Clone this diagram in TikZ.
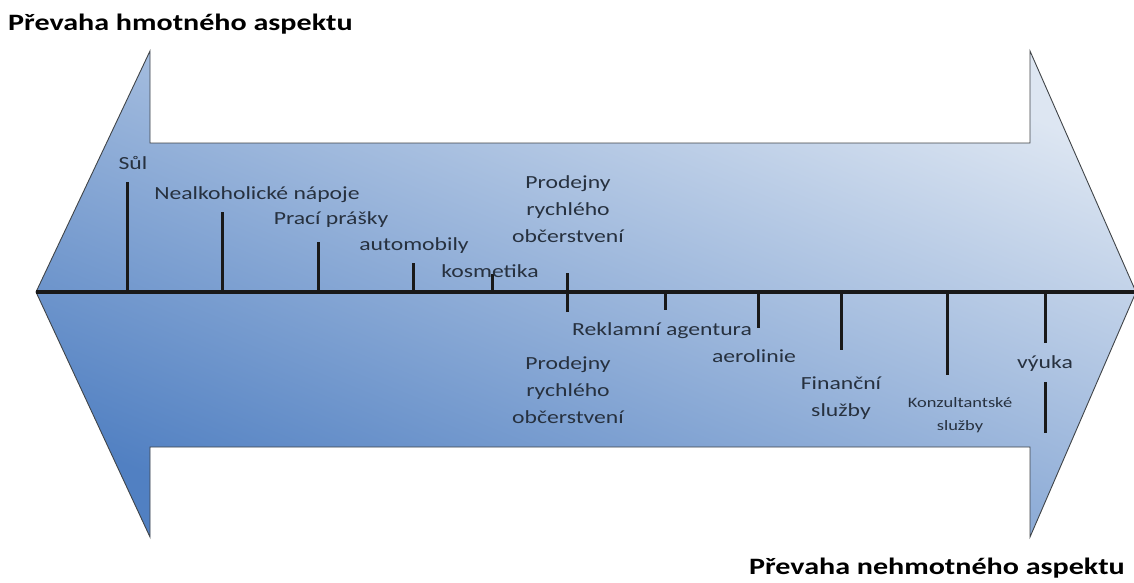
\documentclass[tikz,border=0pt]{standalone}
\usepackage{fontspec}
\newfontfamily\lblfont[FakeStretch=1.28]{Carlito}
\definecolor{darkblue}{HTML}{5180C2}
\definecolor{lightblue}{HTML}{DDE6F2}
\definecolor{txtcol}{HTML}{27313F}
\definecolor{edgecol}{HTML}{404448}
\begin{document}
\begin{tikzpicture}[x=1pt,y=-1pt,
  lbl/.style={font=\lblfont\fontsize{18.5}{27}\selectfont, text=txtcol, inner sep=0pt, anchor=base, align=center},
  smalllbl/.style={font=\lblfont\fontsize{14.4}{23}\selectfont, text=txtcol, inner sep=0pt, anchor=base, align=center},
  ttl/.style={font=\lblfont\bfseries\fontsize{23.5}{28}\selectfont, text=black, inner sep=0pt},
  tickline/.style={line width=3pt, black!90},
  axisline/.style={line width=3.2pt, black!90},
]
\useasboundingbox (0,0) rectangle (1134,582);
% double arrow body
\shade[shading=axis, top color=lightblue, bottom color=darkblue, shading angle=-22,
       draw=edgecol, line width=0.9pt, line join=miter]
  (36,292) -- (150,51) -- (150,143) -- (1030,143) -- (1030,51) -- (1136,292)
  -- (1030,537) -- (1030,447) -- (150,447) -- (150,537) -- cycle;
% axis
\coordinate (axL) at (36,292);
\coordinate (axR) at (1134,292);
\draw[axisline] (axL) -- (axR);
% ticks above
\coordinate (t1a) at (127,292); \coordinate (t1b) at (127,182);
\coordinate (t2a) at (222,292); \coordinate (t2b) at (222,212);
\coordinate (t3a) at (318,292); \coordinate (t3b) at (318,242);
\coordinate (t4a) at (413,292); \coordinate (t4b) at (413,263);
\coordinate (t5a) at (492,292); \coordinate (t5b) at (492,274);
\coordinate (t6a) at (567,312); \coordinate (t6b) at (567,273);
% ticks below
\coordinate (t7a) at (665,292); \coordinate (t7b) at (665,310);
\coordinate (t8a) at (758,292); \coordinate (t8b) at (758,328);
\coordinate (t9a) at (841,292); \coordinate (t9b) at (841,350);
\coordinate (t10a) at (947,292); \coordinate (t10b) at (947,375);
\coordinate (t11a) at (1045,292); \coordinate (t11b) at (1045,343);
\coordinate (t12a) at (1045,382); \coordinate (t12b) at (1045,433);
\foreach \i in {1,...,12} {\draw[tickline] (t\i a) -- (t\i b);}
% labels
\node[lbl] (sul) at (133,169) {Sůl};
\node[lbl] (napoje) at (257,199) {Nealkoholické nápoje};
\node[lbl] (prasky) at (331,224) {Prací prášky};
\node[lbl] (auto) at (414,250) {automobily};
\node[lbl] (kosm) at (490,277) {kosmetika};
\node[lbl] (prodA) at (568,242) {Prodejny\\rychlého\\občerstvení};
\node[lbl] (rekl) at (662,335) {Reklamní agentura};
\node[lbl] (prodB) at (568,423) {Prodejny\\rychlého\\občerstvení};
\node[lbl] (aero) at (754,362) {aerolinie};
\node[lbl] (fin) at (841,416) {Finanční\\služby};
\node[smalllbl] (konz) at (960,430) {Konzultantské\\služby};
\node[lbl] (vyuka) at (1045,368) {výuka};
% titles
\node[ttl, anchor=base west] (titleA) at (8,30) {Převaha hmotného aspektu};
\node[ttl, anchor=base east] (titleB) at (1125,574) {Převaha nehmotného aspektu};
\end{tikzpicture}
\end{document}
